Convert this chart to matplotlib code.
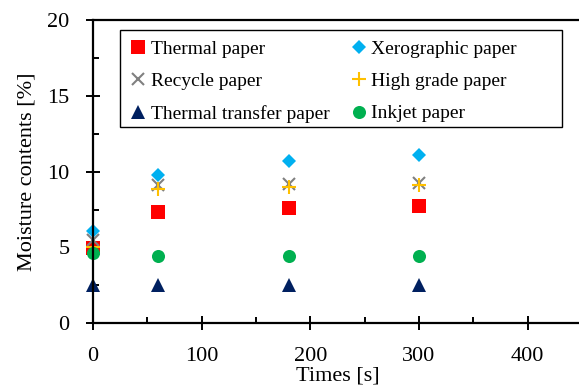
import matplotlib
matplotlib.use("Agg")
import matplotlib.pyplot as plt
from matplotlib.patches import Rectangle
from matplotlib.ticker import MultipleLocator

plt.rcParams['font.family'] = ['Liberation Serif', 'DejaVu Serif']

times = [0, 60, 180, 300]
thermal = [4.95, 7.36, 7.58, 7.75]
xerographic = [6.1, 9.8, 10.7, 11.1]
recycle = [5.5, 9.1, 9.2, 9.27]
high_grade = [5.0, 8.85, 9.0, 9.12]
thermal_transfer = [2.5, 2.5, 2.5, 2.5]
inkjet = [4.65, 4.4, 4.4, 4.4]

series = [
    ("Thermal paper", thermal, 's', '#FF0000', 9.5),
    ("Xerographic paper", xerographic, 'D', '#00B0F0', 7.2),
    ("Recycle paper", recycle, 'x', '#808080', 8.6),
    ("High grade paper", high_grade, '+', '#FFC000', 9.5),
    ("Thermal transfer paper", thermal_transfer, '^', '#002060', 9.4),
    ("Inkjet paper", inkjet, 'o', '#00B050', 9.4),
]

W, H = 579, 385
fig = plt.figure(figsize=(W / 100, H / 100), dpi=100)
left = 93 / W
bottom = 1 - 323 / H
top = 1 - 20.4 / H
right = 582 / W
ax = fig.add_axes([left, bottom, right - left, top - bottom])

handles = []
for name, vals, mk, col, ms in series:
    h, = ax.plot(times, vals, linestyle='none', marker=mk, color=col,
                 markersize=ms, markeredgewidth=1.5 if mk in ('x', '+') else 0,
                 label=name, clip_on=False)
    handles.append(h)

ax.set_xlim(0, 450)
ax.set_ylim(0, 20)
ax.xaxis.set_major_locator(MultipleLocator(100))
ax.xaxis.set_minor_locator(MultipleLocator(50))
ax.yaxis.set_major_locator(MultipleLocator(5))
ax.yaxis.set_minor_locator(MultipleLocator(2.5))
ax.tick_params(which='major', direction='inout', length=10, width=1.4,
               labelsize=16, pad=12)
ax.tick_params(which='minor', direction='in', length=4, width=1.4)
for s in ax.spines.values():
    s.set_linewidth(1.6)

ax.set_xlabel("Times [s]", fontsize=16, labelpad=1)
ax.set_ylabel("Moisture contents [%]", fontsize=16, labelpad=8)

# row-wise legend order (matplotlib fills column by column)
order = [0, 2, 4, 1, 3, 5]
leg = fig.legend(handles=[handles[i] for i in order], ncol=2, loc='upper left',
                 bbox_to_anchor=(112 / W, 1 - 22 / H), frameon=False,
                 fontsize=14, handlelength=0.8, handletextpad=0.25,
                 columnspacing=1.1, borderpad=0.45, labelspacing=0.75)

fig.patches.append(Rectangle((120 / W, 1 - 127 / H), (562 - 120) / W, (127 - 30) / H,
                             transform=fig.transFigure, fill=True, facecolor='white',
                             edgecolor='black', linewidth=1.0, zorder=0))
leg.set_zorder(5)

fig.savefig("out.png", dpi=100)
